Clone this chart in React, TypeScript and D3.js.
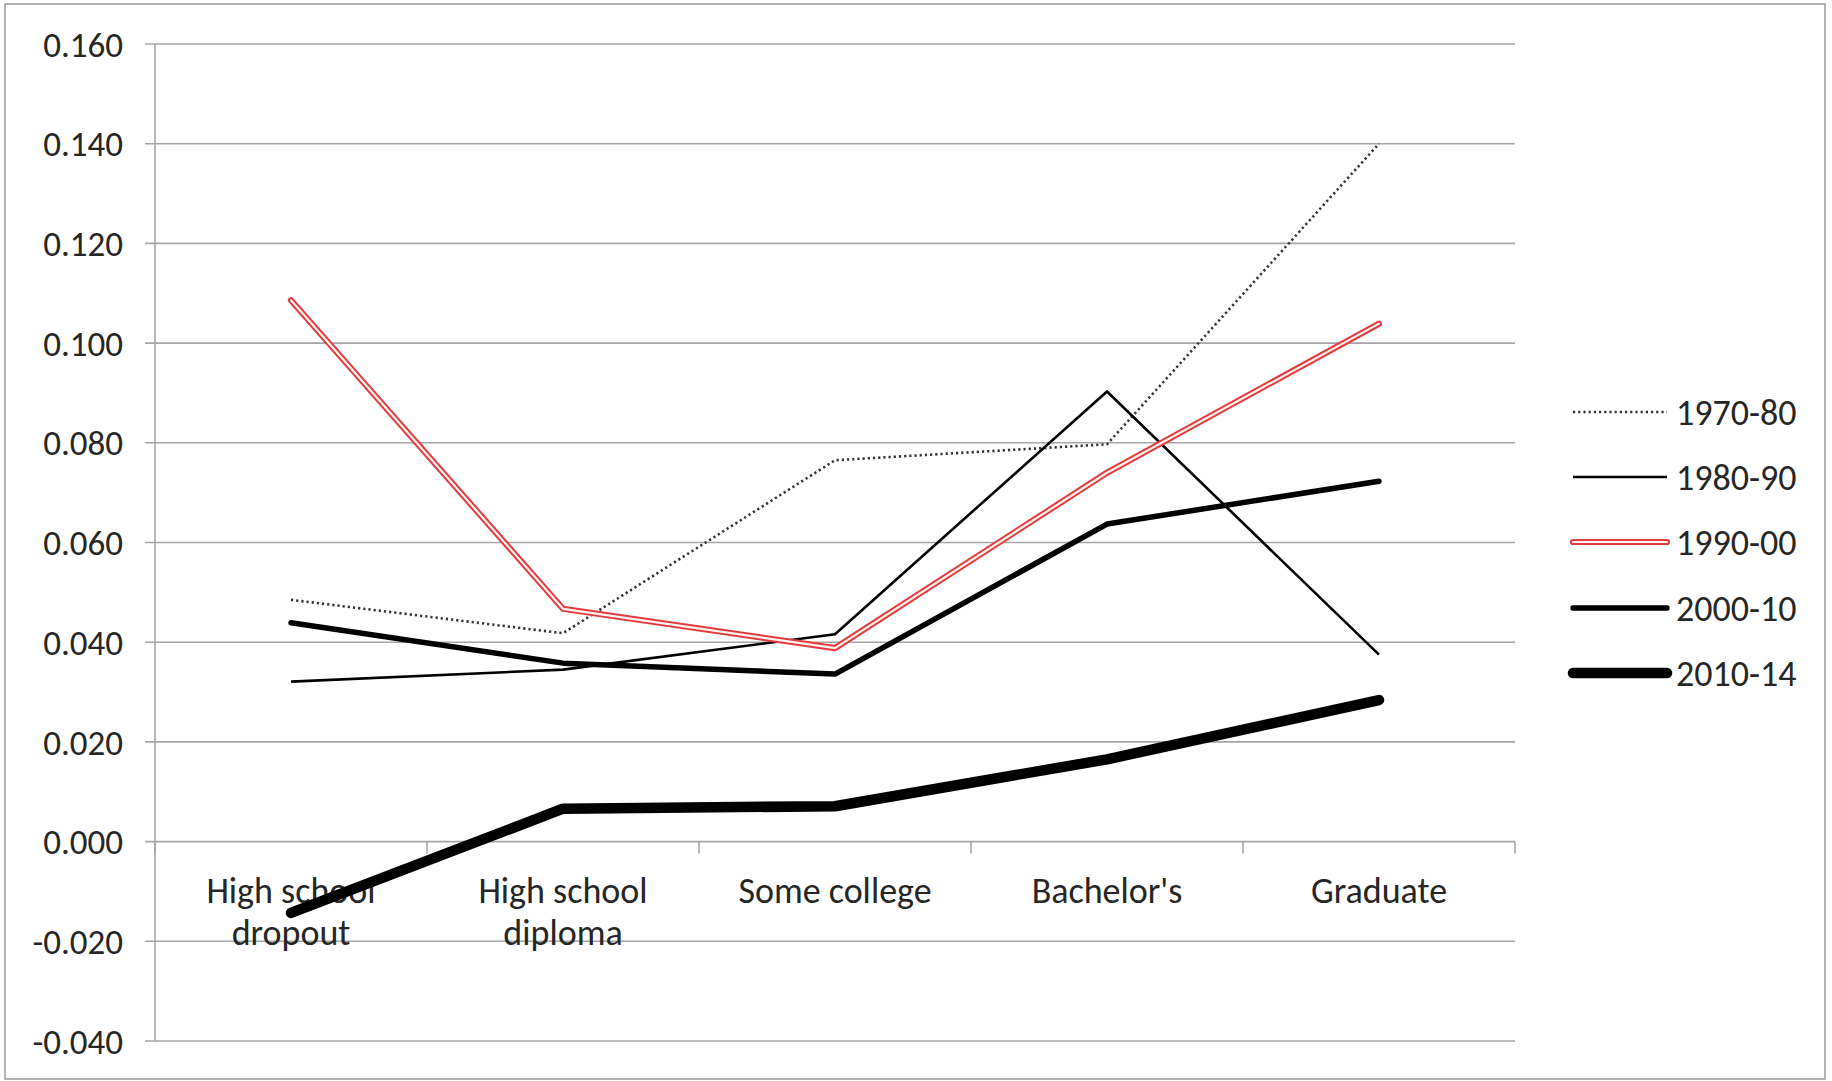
import React from "react";
import * as d3 from "d3";

// Education categories (label lines) and per-decade series values
const categories = ["High school dropout", "High school diploma", "Some college", "Bachelor's", "Graduate"];
const categoryLines = [["High school", "dropout"], ["High school", "diploma"], ["Some college"], ["Bachelor's"], ["Graduate"]];

const s1970 = [0.0485, 0.0418, 0.0765, 0.0797, 0.14];
const s1980 = [0.0321, 0.0345, 0.0416, 0.0903, 0.0375];
const s1990 = [0.1086, 0.0467, 0.0388, 0.074, 0.1039];
const s2000 = [0.0439, 0.0358, 0.0336, 0.0637, 0.0723];
const s2010 = [-0.0143, 0.0066, 0.0071, 0.0165, 0.0284];

const seriesNames = ["1970-80", "1980-90", "1990-00", "2000-10", "2010-14"];
const seriesValues = [s1970, s1980, s1990, s2000, s2010];

const yTicks = [-0.04, -0.02, 0, 0.02, 0.04, 0.06, 0.08, 0.1, 0.12, 0.14, 0.16];

const W = 1832;
const H = 1081;
const FONT = "Carlito, Calibri, Lato, sans-serif";
const TEXT = "#262626";
const GRID = "#a6a6a6";
const RED = "#e33b3b";

type Style = { width: number; color: string; dash?: string; inner?: string; innerWidth?: number; cap: "round" | "butt" };
const styles: Style[] = [
  { width: 2.6, color: "#333", dash: "2.2 3", cap: "butt" },
  { width: 2.6, color: "#000", cap: "butt" },
  { width: 6.2, color: RED, inner: "#fff2f2", innerWidth: 2.2, cap: "round" },
  { width: 5.5, color: "#000", cap: "round" },
  { width: 10.5, color: "#000", cap: "round" },
];

export default function App() {
  const x = d3.scalePoint<string>().domain(categories).range([155, 1515]).padding(0.5);
  const y = d3.scaleLinear().domain([-0.04, 0.16]).range([1041, 44]);
  const band = (1515 - 155) / categories.length;

  const line = d3
    .line<number>()
    .x((_, i) => x(categories[i]) as number)
    .y((d) => y(d));

  const legendX0 = 1573;
  const legendX1 = 1667;
  const legendY = [412, 477, 542, 608, 673];

  return (
    <div style={{ position: "absolute", left: 0, top: 0 }}>
      <svg width={W} height={H} style={{ display: "block", background: "#fff" }}>
        <rect x={5} y={4} width={1820} height={1075} fill="#fff" stroke="#9a9a9a" strokeWidth={1.5} />

        {/* horizontal gridlines and y ticks */}
        {yTicks.map((t) => (
          <g key={t}>
            <line x1={145} x2={1515} y1={y(t)} y2={y(t)} stroke={GRID} strokeWidth={1.6} />
            <text
              x={123}
              y={y(t)}
              dy="0.36em"
              textAnchor="end"
              fontFamily={FONT}
              fontSize={35}
              fill={TEXT}
            >
              {d3.format(".3f")(t).replace("−", "-")}
            </text>
          </g>
        ))}

        {/* y axis */}
        <line x1={155} x2={155} y1={y(0.16)} y2={y(-0.04)} stroke={GRID} strokeWidth={1.6} />

        {/* category ticks on the zero line */}
        {d3.range(categories.length + 1).map((i) => (
          <line
            key={i}
            x1={155 + i * band}
            x2={155 + i * band}
            y1={y(0)}
            y2={y(0) + 12}
            stroke={GRID}
            strokeWidth={1.6}
          />
        ))}

        {/* category labels */}
        {categories.map((c, i) => (
          <text key={c} x={x(c)} y={903} textAnchor="middle" fontFamily={FONT} fontSize={36} fill={TEXT}>
            {categoryLines[i].map((ln, j) => (
              <tspan key={j} x={x(c)} dy={j === 0 ? 0 : 42}>
                {ln}
              </tspan>
            ))}
          </text>
        ))}

        {/* series */}
        {seriesValues.map((vals, i) => {
          const s = styles[i];
          const d = line(vals) as string;
          return (
            <g key={seriesNames[i]}>
              <path
                d={d}
                fill="none"
                stroke={s.color}
                strokeWidth={s.width}
                strokeDasharray={s.dash}
                strokeLinecap={s.cap}
                strokeLinejoin="round"
              />
              {s.inner && (
                <path
                  d={d}
                  fill="none"
                  stroke={s.inner}
                  strokeWidth={s.innerWidth}
                  strokeLinecap="round"
                  strokeLinejoin="round"
                />
              )}
            </g>
          );
        })}

        {/* legend */}
        {seriesNames.map((name, i) => {
          const s = styles[i];
          const ly = legendY[i];
          return (
            <g key={name}>
              <line
                x1={legendX0}
                x2={legendX1}
                y1={ly}
                y2={ly}
                stroke={s.color}
                strokeWidth={s.width}
                strokeDasharray={s.dash}
                strokeLinecap={s.cap}
              />
              {s.inner && (
                <line
                  x1={legendX0}
                  x2={legendX1}
                  y1={ly}
                  y2={ly}
                  stroke={s.inner}
                  strokeWidth={s.innerWidth}
                  strokeLinecap="round"
                />
              )}
              <text x={1676} y={ly} dy="0.36em" fontFamily={FONT} fontSize={36} fill={TEXT}>
                {name}
              </text>
            </g>
          );
        })}
      </svg>
    </div>
  );
}
